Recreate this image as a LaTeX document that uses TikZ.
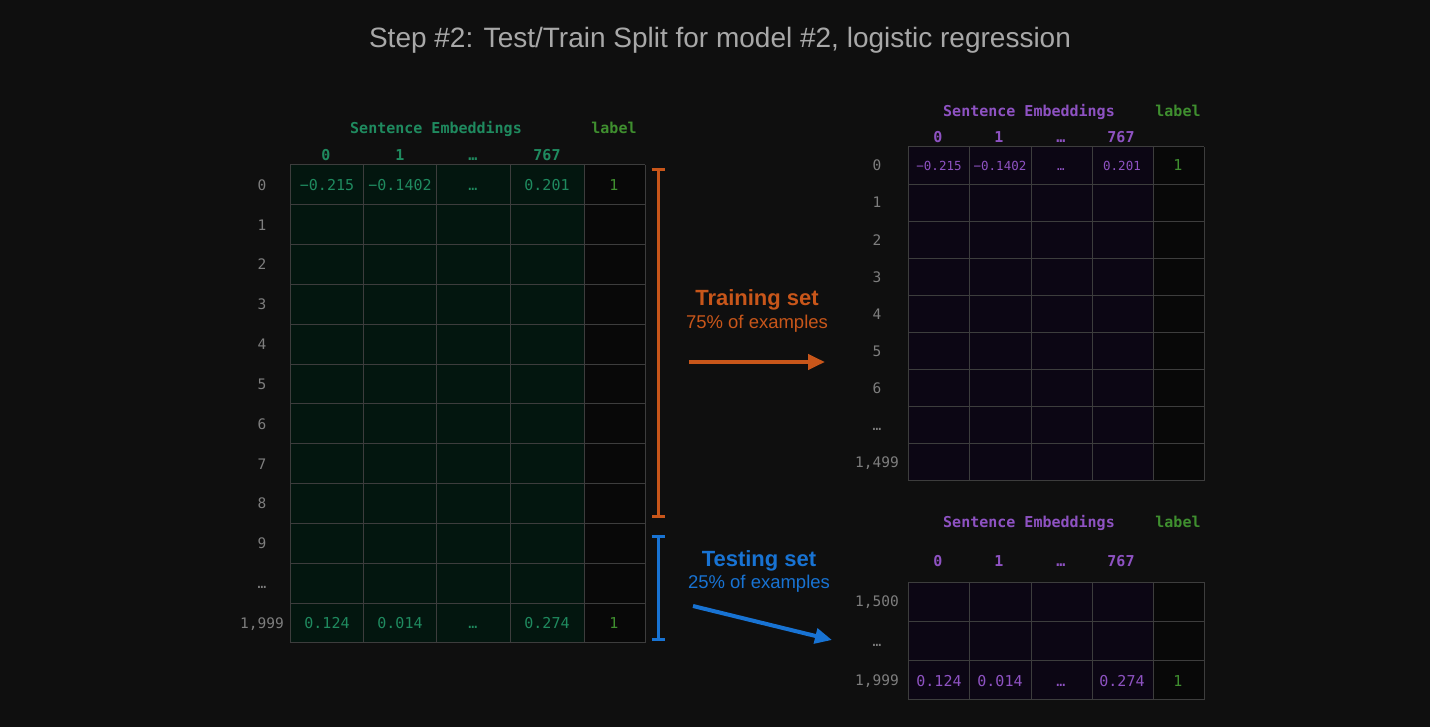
\documentclass[tikz,border=0pt]{standalone}
\usepackage{fontspec}
\setmainfont{Liberation Sans}
\setmonofont{DejaVu Sans Mono}
\usetikzlibrary{arrows.meta,positioning}
\definecolor{SplitBack}{HTML}{0F0F0F}
\definecolor{SplitGrid}{HTML}{3D3D3D}
\definecolor{SplitGreenFill}{HTML}{03160F}
\definecolor{SplitPurpleFill}{HTML}{0C0614}
\definecolor{SplitLabelFill}{HTML}{080808}
\definecolor{SplitGreen}{HTML}{1F8A5F}
\definecolor{SplitLabelGreen}{HTML}{3F8F2F}
\definecolor{SplitPurple}{HTML}{8E52C2}
\definecolor{SplitMuted}{HTML}{7E7E7E}
\definecolor{SplitTitle}{HTML}{A8A8A8}
\definecolor{SplitOrange}{HTML}{C8561A}
\definecolor{SplitBlue}{HTML}{1873D3}

\begin{document}
\begin{tikzpicture}[x=1pt,y=-1pt,
    gridline/.style={draw=SplitGrid,line width=1pt},
    mono/.style={font=\ttfamily\fontsize{15}{18}\selectfont,inner sep=0pt,text height=11pt,text depth=0pt},
    monohead/.style={mono,font=\ttfamily\bfseries\fontsize{15}{18}\selectfont},
    rowlab/.style={mono,text=SplitMuted,font=\ttfamily\fontsize{14.5}{18}\selectfont,text height=10.6pt},
    setname/.style={font=\bfseries\fontsize{22}{26}\selectfont,inner sep=0pt},
    setnote/.style={font=\fontsize{18.5}{22}\selectfont,inner sep=0pt},
    bracket/.style={line width=3pt,{Bar[width=13pt]}-{Bar[width=13pt]}},
    splitarrow/.style={line width=4pt,-{Triangle[length=17pt,width=15pt]}}]
  \fill[SplitBack] (0,0) rectangle (1430,727);
  \useasboundingbox (0,0) rectangle (1430,727);

  \node[text=SplitTitle,font=\fontsize{28}{33}\selectfont] (title) at (720,40)
    {Step \#2: Test/Train Split for model \#2, logistic regression};

  % full data set
  \fill[SplitGreenFill] (290,165) rectangle (584,643);
  \fill[SplitLabelFill] (584,165) rectangle (645,643);
  \foreach \r in {0,...,12}
    \draw[gridline] (290,{165+\r*39.83}) -- (645,{165+\r*39.83});
  \foreach \c in {290,363,436,510,584,645}
    \draw[gridline] (\c,165) -- (\c,643);
  \node[monohead,text=SplitGreen] (fullhead) at (436,128) {Sentence Embeddings};
  \node[monohead,text=SplitLabelGreen] (fulllabel) at (614,128) {label};
  \foreach \t/\x [count=\i] in {0/326,1/400,…/473,767/547}
    \node[monohead,text=SplitGreen] (fullcol\i) at (\x,155) {\t};
  \foreach \t [count=\i from 0] in {0,1,...,8,9,…,{1,999}}
    \node[rowlab] (fullrow\i) at (262,{185+\i*39.83}) {\t};
  \foreach \t/\x [count=\i] in {−0.215/327,−0.1402/400,…/473,0.201/547}
    \node[mono,text=SplitGreen] (fullfirst\i) at (\x,185) {\t};
  \foreach \t/\x [count=\i] in {0.124/327,0.014/400,…/473,0.274/547}
    \node[mono,text=SplitGreen] (fulllast\i) at (\x,623) {\t};
  \node[mono,text=SplitLabelGreen] (fullfirstlab) at (614,185) {1};
  \node[mono,text=SplitLabelGreen] (fulllastlab) at (614,623) {1};

  % brackets
  \coordinate (trainTop) at (658,168);
  \coordinate (trainBot) at (658,518);
  \coordinate (testTop) at (658,535);
  \coordinate (testBot) at (658,641);
  \draw[bracket,SplitOrange] (trainTop) -- (trainBot);
  \draw[bracket,SplitBlue] (testTop) -- (testBot);

  % split labels and arrows
  \node[setname,text=SplitOrange] (trainname) at (757,300) {Training set};
  \node[setnote,text=SplitOrange] (trainnote) at (757,324) {75\% of examples};
  \node[setname,text=SplitBlue] (testname) at (759,561) {Testing set};
  \node[setnote,text=SplitBlue] (testnote) at (759,584) {25\% of examples};
  \coordinate (trainFrom) at (689,362);
  \coordinate (trainTo) at (825,362);
  \coordinate (testFrom) at (693,606);
  \coordinate (testTo) at (832,640);
  \draw[splitarrow,SplitOrange] (trainFrom) -- (trainTo);
  \draw[splitarrow,SplitBlue] (testFrom) -- (testTo);

  % training table
  \fill[SplitPurpleFill] (908,147) rectangle (1153,481);
  \fill[SplitLabelFill] (1153,147) rectangle (1204,481);
  \foreach \r in {0,...,9}
    \draw[gridline] (908,{147+\r*37.11}) -- (1204,{147+\r*37.11});
  \foreach \c in {908,969,1031,1092,1153,1204}
    \draw[gridline] (\c,147) -- (\c,481);
  \node[monohead,text=SplitPurple] (trainhead) at (1029,111) {Sentence Embeddings};
  \node[monohead,text=SplitLabelGreen] (trainlabel) at (1178,111) {label};
  \foreach \t/\x [count=\i] in {0/938,1/999,…/1061,767/1121}
    \node[monohead,text=SplitPurple] (traincol\i) at (\x,137) {\t};
  \foreach \t [count=\i from 0] in {0,1,...,6,…,{1,499}}
    \node[rowlab] (trainrow\i) at (877,{165.5+\i*37.11}) {\t};
  \foreach \t/\x [count=\i] in {−0.215/939,−0.1402/1000,…/1061,0.201/1122}
    \node[mono,text=SplitPurple,font=\ttfamily\fontsize{12.5}{15}\selectfont,text height=9.1pt] (trainfirst\i) at (\x,165.5) {\t};
  \node[mono,text=SplitLabelGreen] (trainfirstlab) at (1178,165.5) {1};

  % testing table
  \fill[SplitPurpleFill] (908,582) rectangle (1153,700);
  \fill[SplitLabelFill] (1153,582) rectangle (1204,700);
  \foreach \r in {0,...,3}
    \draw[gridline] (908,{582+\r*39.33}) -- (1204,{582+\r*39.33});
  \foreach \c in {908,969,1031,1092,1153,1204}
    \draw[gridline] (\c,582) -- (\c,700);
  \node[monohead,text=SplitPurple] (testhead) at (1029,522) {Sentence Embeddings};
  \node[monohead,text=SplitLabelGreen] (testlabel) at (1178,522) {label};
  \foreach \t/\x [count=\i] in {0/938,1/999,…/1061,767/1121}
    \node[monohead,text=SplitPurple] (testcol\i) at (\x,561) {\t};
  \foreach \t [count=\i from 0] in {{1,500},…,{1,999}}
    \node[rowlab] (testrow\i) at (877,{601.5+\i*39.33}) {\t};
  \foreach \t/\x [count=\i] in {0.124/939,0.014/1000,…/1061,0.274/1122}
    \node[mono,text=SplitPurple] (testlast\i) at (\x,680.5) {\t};
  \node[mono,text=SplitLabelGreen] (testlastlab) at (1178,680.5) {1};
\end{tikzpicture}
\end{document}
